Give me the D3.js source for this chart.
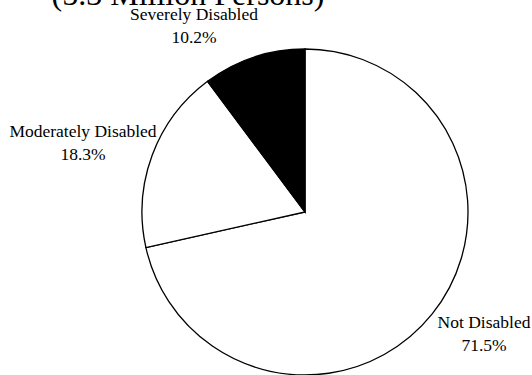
<!DOCTYPE html>
<html lang="en">
<head>
<meta charset="UTF-8">
<script src="https://cdn.jsdelivr.net/npm/d3@7"></script>
<style>
  body{margin:0;background:#fff;}
  text{font-family:"Liberation Serif","Times New Roman",serif;fill:#000;}
</style>
</head>
<body>
<div id="chart"></div>
<script>
// data
var categories=["Not Disabled","Moderately Disabled","Severely Disabled"];
var values=[71.5,18.3,10.2];
var fills=["#fff","#fff","#000"];
var title="(5.3 Million Persons)";

var width=532,height=375;
var cx=305,cy=212,r=163;

var svg=d3.select("#chart").append("svg")
    .attr("width",width)
    .attr("height",height);

// title, mostly off the top like the original
svg.append("text")
    .attr("x",188)
    .attr("y",5)
    .attr("text-anchor","middle")
    .style("font-size","32px")
    .text(title);

var pie=d3.pie().sort(null).value(function(d){return d;});
var arc=d3.arc().innerRadius(0).outerRadius(r);

var g=svg.append("g").attr("transform","translate("+cx+","+cy+")");
g.selectAll("path")
    .data(pie(values))
    .enter().append("path")
    .attr("d",arc)
    .attr("fill",function(d,i){return fills[i];})
    .attr("stroke","#000")
    .attr("stroke-width",1.3);

// label positions (hand placed like the source)
var labelPos=[[484,328],[83,137],[194,20]];
var lab=svg.selectAll("g.lab")
    .data(categories)
    .enter().append("g")
    .attr("class","lab")
    .attr("transform",function(d,i){return "translate("+labelPos[i][0]+","+labelPos[i][1]+")";});
lab.append("text")
    .attr("text-anchor","middle")
    .style("font-size","17.5px")
    .text(function(d){return d;});
lab.append("text")
    .attr("text-anchor","middle")
    .attr("y",23)
    .style("font-size","17.5px")
    .text(function(d,i){return values[i].toFixed(1)+"%";});
</script>
</body>
</html>
